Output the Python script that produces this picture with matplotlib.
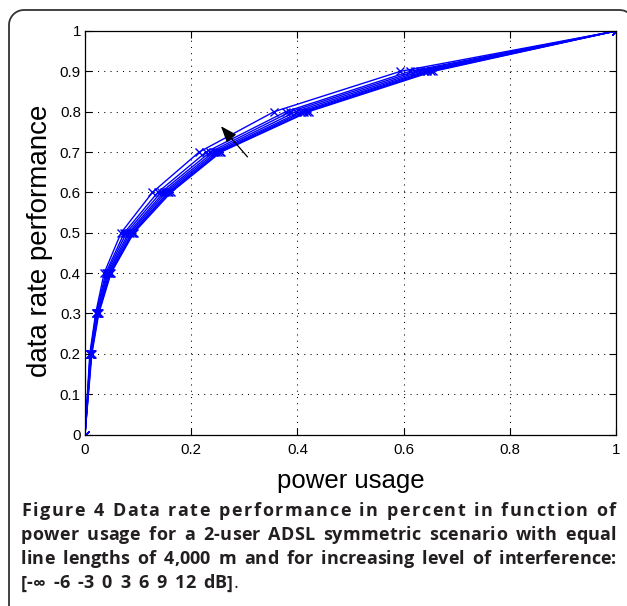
import numpy as np
import matplotlib.pyplot as plt
from matplotlib.lines import Line2D
from matplotlib.font_manager import FontProperties, findfont
from matplotlib.ft2font import FT2Font

# power usage (x) needed to reach each data rate level (y), one list per interference level
rate = [0, 0.2, 0.3, 0.4, 0.5, 0.6, 0.7, 0.8, 0.9, 1.0]
power_c1 = [0, 0.009, 0.020, 0.036, 0.068, 0.127, 0.215, 0.356, 0.594, 1]
power_c2 = [0, 0.010, 0.021, 0.039, 0.074, 0.137, 0.228, 0.378, 0.612, 1]
power_c3 = [0, 0.010, 0.022, 0.041, 0.078, 0.143, 0.236, 0.387, 0.622, 1]
power_c4 = [0, 0.011, 0.023, 0.043, 0.082, 0.148, 0.242, 0.397, 0.631, 1]
power_c5 = [0, 0.011, 0.024, 0.045, 0.085, 0.152, 0.247, 0.406, 0.639, 1]
power_c6 = [0, 0.012, 0.025, 0.047, 0.088, 0.156, 0.251, 0.412, 0.645, 1]
power_c7 = [0, 0.012, 0.025, 0.048, 0.090, 0.159, 0.254, 0.418, 0.651, 1]
power_c8 = [0, 0.013, 0.026, 0.049, 0.092, 0.162, 0.256, 0.421, 0.656, 1]
curves = [power_c1, power_c2, power_c3, power_c4, power_c5, power_c6, power_c7, power_c8]

xticks = [0, 0.2, 0.4, 0.6, 0.8, 1]
xticklabels = ['0', '0.2', '0.4', '0.6', '0.8', '1']
yticks = [0, 0.1, 0.2, 0.3, 0.4, 0.5, 0.6, 0.7, 0.8, 0.9, 1]
yticklabels = ['0', '0.1', '0.2', '0.3', '0.4', '0.5', '0.6', '0.7', '0.8', '0.9', '1']

caption = [
    'Figure 4 Data rate performance in percent in function of',
    'power usage for a 2-user ADSL symmetric scenario with equal',
    'line lengths of 4,000 m and for increasing level of interference:',
    '[-\u221e -6 -3 0 3 6 9 12 dB]',
]

W, H = 627, 606
plt.rcParams['font.family'] = ['Liberation Sans', 'DejaVu Sans']
fig = plt.figure(figsize=(W / 100, H / 100), dpi=100)

# frame: left and top edge with a rounded corner (pixel coords, y down)
r = 15
t = np.linspace(np.pi, 1.5 * np.pi, 20)
fx = np.concatenate([[9], 9 + r + r * np.cos(t), [620, 624, 627]])
fy = np.concatenate([[H + 5], 10 + r + r * np.sin(t), [10, 10.6, 12]])
fig.add_artist(Line2D(fx / W, 1 - fy / H, transform=fig.transFigure,
                      color='#333333', linewidth=1.3))

ax = fig.add_axes([85 / W, 1 - 434.5 / H, (616 - 85) / W, (434.5 - 31) / H])
for xs in curves:
    ax.plot(xs, rate, color='blue', linewidth=1.0, marker='x', markersize=6,
            markeredgewidth=1.0)

ax.annotate('', xy=(0.256, 0.764), xytext=(0.306, 0.688),
            arrowprops=dict(arrowstyle='-|>,head_length=1.0,head_width=0.38',
                            color='black', lw=0.9, shrinkA=0, shrinkB=0))

ax.set_xlim(0, 1)
ax.set_ylim(0, 1)
ax.set_xticks(xticks)
ax.set_xticklabels(xticklabels)
ax.set_yticks(yticks)
ax.set_yticklabels(yticklabels)
ax.tick_params(direction='in', length=5, width=0.8, labelsize=10.8,
               top=True, right=True)
ax.tick_params(axis='x', pad=6)
ax.tick_params(axis='y', pad=3)
ax.grid(True, color='black', linestyle=(0, (1, 5)), linewidth=0.75)
for s in ax.spines.values():
    s.set_linewidth(0.9)
ax.set_xlabel('power usage', fontsize=18.5, labelpad=9)
ax.set_ylabel('data rate performance', fontsize=20)
ax.yaxis.set_label_coords(-0.06, 0.481)

# caption: bold, justified (wide lines get letter spacing), plain final period
cap_size = 13.0
left, right = 21, 616
baselines = [515.5, 540, 564.3, 588.5]
last_gap = 8.0

main_ft = FT2Font(findfont(FontProperties(family='Open Sans', weight='bold')))
alt_ft = FT2Font(findfont(FontProperties(family='DejaVu Sans', weight='bold')))
for f in (main_ft, alt_ft):
    f.set_size(cap_size, 100)


def glyph(c):
    if main_ft.get_char_index(ord(c)) != 0:
        return 'Open Sans', main_ft.load_char(ord(c)).linearHoriAdvance / 65536
    return 'DejaVu Sans', alt_ft.load_char(ord(c)).linearHoriAdvance / 65536


space = glyph(' ')[1]
for i, line in enumerate(caption):
    words = line.split(' ')
    word_w = [sum(glyph(c)[1] for c in w) for w in words]
    n_letter_gaps = sum(len(w) - 1 for w in words)
    track = 0.0
    if i < len(caption) - 1:
        gap = (right - left - sum(word_w)) / (len(words) - 1)
        if gap > 1.8 * space:
            gap = 1.8 * space
            track = (right - left - sum(word_w) - gap * (len(words) - 1)) / n_letter_gaps
    else:
        gap = last_gap
    y = 1 - baselines[i] / H
    x = left
    for w, ww in zip(words, word_w):
        cx = x
        for c in w:
            fam, adv = glyph(c)
            fig.text(cx / W, y, c, fontsize=cap_size, fontweight='bold',
                     family=fam, va='baseline', ha='left', color='#231f20')
            cx += adv + track
        x += ww + track * (len(w) - 1) + gap
    if i == len(caption) - 1:
        fig.text((x - gap + 1) / W, y, '.', fontsize=cap_size,
                 family='Open Sans', va='baseline', ha='left', color='#231f20')

fig.savefig('out.png', dpi=100)
